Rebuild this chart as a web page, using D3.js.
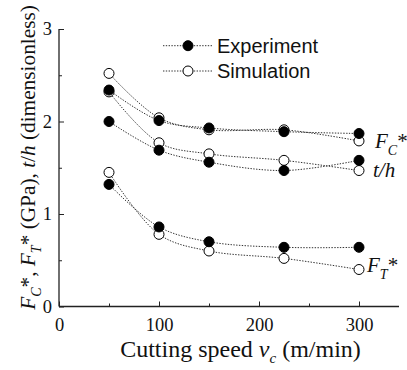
<!DOCTYPE html>
<html><head><meta charset="utf-8">
<script src="https://cdn.jsdelivr.net/npm/d3@7"></script>
<style>body{margin:0;background:#fff}svg{display:block}</style>
</head><body><svg id="c" width="407" height="370"></svg>
<script>
const speeds = [50, 100, 150, 225, 300];
const fcExp = [2.34, 2.01, 1.93, 1.89, 1.87];
const fcSim = [2.52, 2.04, 1.91, 1.91, 1.79];
const thExp = [2.00, 1.69, 1.56, 1.47, 1.58];
const thSim = [2.32, 1.77, 1.65, 1.58, 1.47];
const ftExp = [1.32, 0.86, 0.70, 0.64, 0.64];
const ftSim = [1.45, 0.78, 0.60, 0.52, 0.40];
const xTicks = [0, 100, 200, 300];
const xMinor = [50, 150, 250];
const yTicks = [0, 1, 2, 3];
const yMinor = [0.5, 1.5, 2.5];
const legendLabels = ["Experiment", "Simulation"];

const svg = d3.select("#c");
const x = d3.scaleLinear().domain([0, 340]).range([59, 399]);
const y = d3.scaleLinear().domain([0, 3]).range([306.5, 29]);
const serif = "'Liberation Serif','Times New Roman',serif";
const sans = "'Liberation Sans',Arial,sans-serif";
const axisCol = "#222";

// axes
const xAxis = svg.append("g").attr("transform", `translate(0,${y(0)})`)
  .call(d3.axisBottom(x).tickValues(xTicks).tickSize(-5).tickFormat(d3.format("d")).tickPadding(11));
svg.append("g").attr("transform", `translate(0,${y(0)})`)
  .call(d3.axisBottom(x).tickValues(xMinor).tickSize(-3).tickFormat(""))
  .call(g => g.select(".domain").remove());
const yAxis = svg.append("g").attr("transform", `translate(${x(0)},0)`)
  .call(d3.axisLeft(y).tickValues(yTicks).tickSize(-5).tickFormat(d3.format("d")).tickPadding(7));
svg.append("g").attr("transform", `translate(${x(0)},0)`)
  .call(d3.axisLeft(y).tickValues(yMinor).tickSize(-3).tickFormat(""))
  .call(g => g.select(".domain").remove());
svg.selectAll(".domain").attr("stroke", axisCol).attr("stroke-width", 1.3);
svg.selectAll(".tick line").attr("stroke", axisCol).attr("stroke-width", 1);
svg.selectAll(".tick text").attr("font-family", serif).attr("font-size", 18.5).attr("fill", "#111");
xAxis.select(".domain").attr("d", `M${x(0)},0H${x(340)}`);
yAxis.select(".domain").attr("d", `M0,${y(0)}V${y(3)}`);

// lines
const line = d3.line().x((d, i) => x(speeds[i])).y(d => y(d)).curve(d3.curveCatmullRom.alpha(0.5));
const series = [
  {v: fcExp, filled: true}, {v: fcSim, filled: false},
  {v: thExp, filled: true}, {v: thSim, filled: false},
  {v: ftExp, filled: true}, {v: ftSim, filled: false}
];
series.forEach(s => {
  svg.append("path").attr("d", line(s.v)).attr("fill", "none")
    .attr("stroke", "#333").attr("stroke-width", 1).attr("stroke-dasharray", "1.4,1.4");
});
const R = 5;
[1, 3, 5, 0, 2, 4].forEach(k => {
  const s = series[k];
  svg.append("g").selectAll("circle").data(s.v).join("circle")
    .attr("cx", (d, i) => x(speeds[i])).attr("cy", d => y(d)).attr("r", R)
    .attr("fill", s.filled ? "#000" : "#fff").attr("stroke", "#000").attr("stroke-width", 1);
});

// legend
const lg = svg.append("g");
legendLabels.forEach((lab, i) => {
  const ly = 45.7 + i * 25.3;
  lg.append("line").attr("x1", 163).attr("x2", 213).attr("y1", ly).attr("y2", ly)
    .attr("stroke", "#333").attr("stroke-width", 1).attr("stroke-dasharray", "1.4,1.4");
  lg.append("circle").attr("cx", 188).attr("cy", ly).attr("r", R)
    .attr("fill", i === 0 ? "#000" : "#fff").attr("stroke", "#000");
  lg.append("text").attr("x", 217).attr("y", ly + 7).attr("font-family", sans)
    .attr("font-size", 20).attr("fill", "#111").text(lab);
});

// right labels
function fLabel(xp, yp, sub) {
  const t = svg.append("text").attr("x", xp).attr("y", yp).attr("font-family", serif)
    .attr("font-size", 21).attr("fill", "#111");
  t.append("tspan").attr("font-style", "italic").text("F");
  t.append("tspan").attr("font-style", "italic").attr("font-size", 14).attr("dy", 7).text(sub);
  t.append("tspan").attr("dy", -7).text("*");
}
fLabel(375, 148, "C");
svg.append("text").attr("x", 373).attr("y", 177).attr("font-family", serif)
  .attr("font-size", 21).attr("font-style", "italic").attr("fill", "#111").text("t/h");
fLabel(367, 272, "T");

// x title
const xt = svg.append("text").attr("x", 240.5).attr("y", 357).attr("text-anchor", "middle")
  .attr("font-family", serif).attr("font-size", 24).attr("fill", "#111");
xt.append("tspan").text("Cutting speed ");
xt.append("tspan").attr("font-style", "italic").text("v");
xt.append("tspan").attr("font-style", "italic").attr("font-size", 15).attr("dy", 6).text("c");
xt.append("tspan").attr("dy", -6).text(" (m/min)");

// y title
const yt = svg.append("text").attr("transform", "translate(35,157.5) rotate(-90)")
  .attr("text-anchor", "middle").attr("font-family", serif).attr("font-size", 21.3).attr("fill", "#111");
yt.append("tspan").attr("font-style", "italic").text("F");
yt.append("tspan").attr("font-style", "italic").attr("font-size", 14).attr("dy", 6).text("C");
yt.append("tspan").attr("dy", -6).text("*, ");
yt.append("tspan").attr("font-style", "italic").text("F");
yt.append("tspan").attr("font-style", "italic").attr("font-size", 14).attr("dy", 6).text("T");
yt.append("tspan").attr("dy", -6).text("* (GPa), ");
yt.append("tspan").attr("font-style", "italic").text("t");
yt.append("tspan").text("/");
yt.append("tspan").attr("font-style", "italic").text("h");
yt.append("tspan").text(" (dimensionless)");
</script></body></html>
